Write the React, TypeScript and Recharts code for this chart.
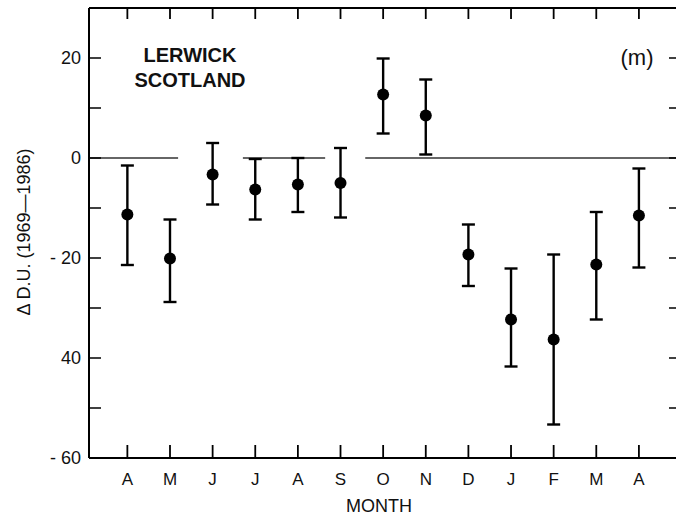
import React from "react";
import {
  ScatterChart,
  Scatter,
  XAxis,
  YAxis,
  ErrorBar,
  ReferenceLine,
  Customized,
} from "recharts";

const months = ["A", "M", "J", "J", "A", "S", "O", "N", "D", "J", "F", "M", "A"];
const monthPos = [1, 2, 3, 4, 5, 6, 7, 8, 9, 10, 11, 12, 13];
const means = [-11.3, -20.1, -3.3, -6.3, -5.3, -5.0, 12.7, 8.5, -19.3, -32.3, -36.3, -21.3, -11.5];
const highs = [-1.5, -12.3, 3.0, -0.2, 0.0, 2.0, 19.9, 15.7, -13.3, -22.1, -19.3, -10.8, -2.1];
const lows = [-21.4, -28.8, -9.3, -12.3, -10.8, -11.9, 4.9, 0.7, -25.6, -41.7, -53.3, -32.3, -21.9];

const yLabelTicks = [20, 0, -20, -40, -60];
const yLabelText = ["20", "0", "- 20", "40", "- 60"];
const yMinorTicks = [20, 10, 0, -10, -20, -30, -40, -50, -60];
// zero line is broken in a few places in the original
const zeroSegments = [
  [0.1, 2.19],
  [3.71, 5.64],
  [6.58, 13.87],
];

const X_DOMAIN: [number, number] = [0.1, 13.87];
const Y_DOMAIN: [number, number] = [-60, 30];
const FONT = "'Liberation Sans', Arial, Helvetica, sans-serif";
const INK = "#111";

const data = monthPos.map((x, i) => ({
  x,
  y: means[i],
  err: [means[i] - lows[i], highs[i] - means[i]],
}));

const NoLabel = () => <g />;
const NoShape = () => <g />;

function Annotations() {
  return (
    <g fontFamily={FONT} fill={INK}>
      <text x={190} y={62} textAnchor="middle" fontSize={20} fontWeight="bold">
        LERWICK
      </text>
      <text x={190} y={87} textAnchor="middle" fontSize={20} fontWeight="bold">
        SCOTLAND
      </text>
      <text x={637} y={65} textAnchor="middle" fontSize={22}>
        (m)
      </text>
      <text x={379} y={512} textAnchor="middle" fontSize={18}>
        MONTH
      </text>
      <text
        x={24}
        y={232}
        textAnchor="middle"
        dominantBaseline="central"
        fontSize={18}
        transform="rotate(-90, 24, 232)"
      >
        Δ D.U. (1969—1986)
      </text>
    </g>
  );
}

export default function App() {
  return (
    <div style={{ position: "absolute", left: 0, top: 0, width: 676, height: 524, background: "#fff" }}>
      <ScatterChart width={676} height={524} margin={{ top: 8, right: 0, bottom: 0, left: 0 }}>
        <XAxis
          xAxisId="b"
          type="number"
          dataKey="x"
          domain={X_DOMAIN}
          allowDataOverflow
          ticks={monthPos}
          interval={0}
          tickFormatter={(v) => months[v - 1]}
          tickLine={false}
          axisLine={{ stroke: "#000", strokeWidth: 2 }}
          tick={{ fontSize: 17, fill: INK, fontFamily: FONT }}
          tickMargin={9}
          height={66}
        />
        <XAxis
          xAxisId="bt"
          orientation="bottom"
          mirror
          type="number"
          dataKey="x"
          domain={X_DOMAIN}
          allowDataOverflow
          ticks={monthPos}
          interval={0}
          tick={NoLabel}
          tickSize={13}
          tickLine={{ stroke: "#000", strokeWidth: 1.8 }}
          axisLine={false}
        />
        <XAxis
          xAxisId="t"
          orientation="top"
          mirror
          type="number"
          dataKey="x"
          domain={X_DOMAIN}
          allowDataOverflow
          ticks={monthPos}
          interval={0}
          tick={NoLabel}
          tickSize={11}
          tickLine={{ stroke: "#000", strokeWidth: 1.8 }}
          axisLine={{ stroke: "#000", strokeWidth: 2 }}
        />
        <YAxis
          yAxisId="l"
          type="number"
          dataKey="y"
          domain={Y_DOMAIN}
          allowDataOverflow
          ticks={yLabelTicks}
          interval={0}
          tickFormatter={(v) => yLabelText[yLabelTicks.indexOf(v)] ?? ""}
          tickLine={false}
          axisLine={{ stroke: "#000", strokeWidth: 2 }}
          tick={{ fontSize: 18, fill: INK, fontFamily: FONT }}
          width={89}
        />
        <YAxis
          yAxisId="lm"
          orientation="left"
          mirror
          type="number"
          dataKey="y"
          domain={Y_DOMAIN}
          allowDataOverflow
          ticks={yMinorTicks}
          interval={0}
          tick={NoLabel}
          tickSize={12}
          tickLine={{ stroke: "#000", strokeWidth: 1.5 }}
          axisLine={false}
        />
        <YAxis
          yAxisId="rm"
          orientation="right"
          mirror
          type="number"
          dataKey="y"
          domain={Y_DOMAIN}
          allowDataOverflow
          ticks={yMinorTicks}
          interval={0}
          tick={NoLabel}
          tickSize={7}
          tickLine={{ stroke: "#000", strokeWidth: 1.5 }}
          axisLine={false}
        />
        {zeroSegments.map((s, i) => (
          <ReferenceLine
            key={i}
            xAxisId="b"
            yAxisId="l"
            segment={[
              { x: s[0], y: 0 },
              { x: s[1], y: 0 },
            ]}
            stroke="#333"
            strokeWidth={1.3}
          />
        ))}
        {/* invisible series so the tick-only axes get their scales */}
        <Scatter xAxisId="bt" yAxisId="lm" data={data} isAnimationActive={false} shape={NoShape} />
        <Scatter xAxisId="t" yAxisId="rm" data={data} isAnimationActive={false} shape={NoShape} />
        <Scatter
          xAxisId="b"
          yAxisId="l"
          data={data}
          isAnimationActive={false}
          shape={(p: any) => <circle cx={p.cx} cy={p.cy} r={6} fill="#000" />}
        >
          <ErrorBar dataKey="err" direction="y" width={6.5} strokeWidth={2.4} stroke="#000" />
        </Scatter>
        <Customized component={Annotations} />
      </ScatterChart>
    </div>
  );
}
